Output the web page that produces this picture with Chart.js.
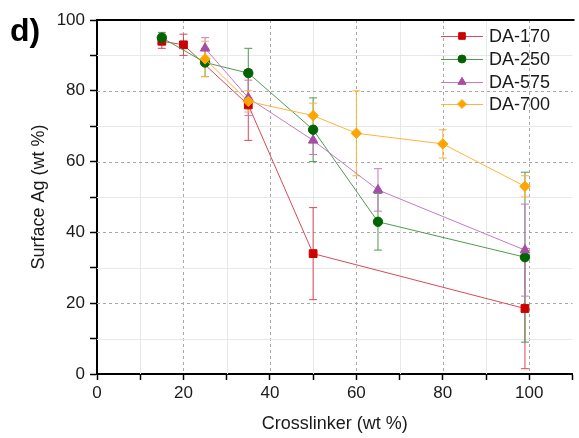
<!DOCTYPE html>
<html>
<head>
<meta charset="utf-8">
<script src="https://cdn.jsdelivr.net/npm/chart.js@4/dist/chart.umd.min.js"></script>
<style>
  html, body { margin: 0; padding: 0; background: #fff; overflow: hidden; }
  #wrap { width: 579px; height: 438px; }
</style>
</head>
<body>
<div id="wrap"><canvas id="surfaceChart" width="579" height="438"></canvas></div>
<script>
const seriesNames = ['DA-170', 'DA-250', 'DA-575', 'DA-700'];

const x170 = [15, 20, 35, 50, 99];
const y170 = [94, 93, 76, 34, 18.5];
const err170 = [2, 3, 10, 13, 17];

const x250 = [15, 25, 35, 50, 65, 99];
const y250 = [95, 88, 85, 69, 43, 33];
const err250 = [1.5, 4, 7, 9, 8, 24];

const x575 = [25, 35, 50, 65, 99];
const y575 = [92, 78, 66, 52, 35];
const err575 = [3, 5, 4, 6, 13];

const x700 = [25, 35, 50, 60, 80, 99];
const y700 = [89, 77, 73, 68, 65, 53];
const err700 = [5, 3, 3.5, 12, 4, 3];

const xTicks = [0, 20, 40, 60, 80, 100];
const yTicks = [0, 20, 40, 60, 80, 100];

const FONT = 'Arial, "Liberation Sans", sans-serif';

const toPoints = (xs, ys, errs) => xs.map((x, i) => ({ x, y: ys[i], err: errs[i] }));

const makeSet = (label, xs, ys, errs, lineColor, markColor, style, radius, order) => ({
    label,
    data: toPoints(xs, ys, errs),
    borderColor: lineColor,
    backgroundColor: markColor,
    borderWidth: 1,
    pointStyle: style,
    pointRadius: radius,
    pointHoverRadius: radius,
    pointBorderColor: markColor,
    pointBackgroundColor: markColor,
    pointBorderWidth: 1,
    errColor: lineColor,
    order,
});

const datasets = [
    makeSet(seriesNames[0], x170, y170, err170, '#d9485a', '#cc0000', 'rect', 5.5, 3),
    makeSet(seriesNames[1], x250, y250, err250, '#4f9a4f', '#006400', 'circle', 4.7, 2),
    makeSet(seriesNames[2], x575, y575, err575, '#c47ac4', '#a64ca6', 'triangle', 5.5, 1),
    makeSet(seriesNames[3], x700, y700, err700, '#ffb340', '#ffa500', 'rectRot', 5.2, 0),
];

// dashed major / light minor grid, drawn under the data
const gridPlugin = {
    id: 'gridLines',
    beforeDatasetsDraw(chart) {
        const { ctx, chartArea, scales } = chart;
        ctx.save();
        ctx.lineWidth = 1;
        for (let v = 10; v < 110; v += 10) {
            const px = Math.round(scales.x.getPixelForValue(v)) + 0.5;
            const major = v % 20 === 0;
            ctx.strokeStyle = major ? '#a8a8a8' : '#e8e8e8';
            ctx.setLineDash(major ? [3, 3] : []);
            ctx.beginPath();
            ctx.moveTo(px, chartArea.top);
            ctx.lineTo(px, chartArea.bottom);
            ctx.stroke();
        }
        for (let v = 10; v < 100; v += 10) {
            const py = Math.round(scales.y.getPixelForValue(v)) + 0.5;
            const major = v % 20 === 0;
            ctx.strokeStyle = major ? '#a8a8a8' : '#e8e8e8';
            ctx.setLineDash(major ? [3, 3] : []);
            ctx.beginPath();
            ctx.moveTo(chartArea.left, py);
            ctx.lineTo(chartArea.right, py);
            ctx.stroke();
        }
        ctx.restore();
    },
};

const errorBarPlugin = {
    id: 'errorBars',
    beforeDatasetsDraw(chart) {
        const { ctx, scales } = chart;
        ctx.save();
        ctx.lineWidth = 1;
        chart.data.datasets.forEach((ds) => {
            ctx.strokeStyle = ds.errColor;
            ds.data.forEach((p) => {
                const px = scales.x.getPixelForValue(p.x);
                const top = scales.y.getPixelForValue(p.y + p.err);
                const bot = scales.y.getPixelForValue(p.y - p.err);
                ctx.beginPath();
                ctx.moveTo(px, top);
                ctx.lineTo(px, bot);
                ctx.moveTo(px - 4, top);
                ctx.lineTo(px + 4, top);
                ctx.moveTo(px - 4, bot);
                ctx.lineTo(px + 4, bot);
                ctx.stroke();
            });
        });
        ctx.restore();
    },
};

const framePlugin = {
    id: 'frame',
    afterDraw(chart) {
        const { ctx, chartArea } = chart;
        ctx.save();
        ctx.strokeStyle = '#000';
        ctx.lineWidth = 2;
        ctx.beginPath();
        ctx.moveTo(chartArea.left - 1, chartArea.top);
        ctx.lineTo(chartArea.right + 2, chartArea.top);
        ctx.stroke();

        ctx.fillStyle = '#000';
        ctx.font = 'bold 32px ' + FONT;
        ctx.textBaseline = 'alphabetic';
        ctx.textAlign = 'left';
        ctx.fillText('d)', 10, 41);
        ctx.restore();
    },
};

// legend with line + marker, inside the top right corner
const legendPlugin = {
    id: 'innerLegend',
    afterDraw(chart) {
        const { ctx } = chart;
        const lx0 = 441;
        const lx1 = 483;
        const tx = 489;
        const rows = [36, 59, 82, 104];
        ctx.save();
        ctx.font = '18px ' + FONT;
        ctx.textBaseline = 'middle';
        chart.data.datasets.forEach((ds, i) => {
            const y = rows[i];
            ctx.strokeStyle = ds.borderColor;
            ctx.lineWidth = 1;
            ctx.beginPath();
            ctx.moveTo(lx0, y + 0.5);
            ctx.lineTo(lx1, y + 0.5);
            ctx.stroke();
            ctx.fillStyle = ds.pointBackgroundColor;
            ctx.strokeStyle = ds.pointBorderColor;
            Chart.helpers.drawPoint(ctx, {
                pointStyle: ds.pointStyle,
                radius: ds.pointRadius * 0.85,
                borderWidth: 1,
                rotation: 0,
            }, (lx0 + lx1) / 2, y);
            ctx.fillStyle = '#1a1a1a';
            ctx.fillText(ds.label, tx, y + 1);
        });
        ctx.restore();
    },
};

new Chart(document.getElementById('surfaceChart'), {
    type: 'line',
    data: { datasets },
    plugins: [gridPlugin, errorBarPlugin, framePlugin, legendPlugin],
    options: {
        responsive: false,
        animation: false,
        layout: { padding: { top: 20, right: 0, left: 0, bottom: 0 } },
        plugins: {
            legend: { display: false },
            tooltip: { enabled: false },
        },
        scales: {
            x: {
                type: 'linear',
                min: 0,
                max: 110,
                afterFit: (scale) => { scale.height = 64; },
                afterBuildTicks: (scale) => {
                    scale.ticks = [];
                    for (let v = 0; v <= 110; v += 10) scale.ticks.push({ value: v });
                },
                ticks: {
                    autoSkip: false,
                    maxRotation: 0,
                    padding: 3,
                    color: '#1a1a1a',
                    font: { family: FONT, size: 17 },
                    callback: (v) => (xTicks.includes(v) ? String(v) : ''),
                },
                grid: {
                    drawOnChartArea: false,
                    drawTicks: true,
                    tickLength: 6,
                    tickColor: '#000',
                    tickWidth: 1.5,
                },
                border: { color: '#000', width: 2 },
                title: {
                    display: true,
                    text: 'Crosslinker (wt %)',
                    color: '#1a1a1a',
                    font: { family: FONT, size: 18 },
                    padding: { top: 0, bottom: 3 },
                },
            },
            y: {
                type: 'linear',
                min: 0,
                max: 100,
                afterFit: (scale) => { scale.width = 97; },
                afterBuildTicks: (scale) => {
                    scale.ticks = [];
                    for (let v = 0; v <= 100; v += 10) scale.ticks.push({ value: v });
                },
                ticks: {
                    autoSkip: false,
                    padding: 5,
                    color: '#1a1a1a',
                    font: { family: FONT, size: 17 },
                    callback: (v) => (yTicks.includes(v) ? String(v) : ''),
                },
                grid: {
                    drawOnChartArea: false,
                    drawTicks: true,
                    tickLength: 7,
                    tickColor: '#000',
                    tickWidth: 1.5,
                },
                border: { color: '#000', width: 2 },
                title: {
                    display: true,
                    text: 'Surface Ag (wt %)',
                    color: '#1a1a1a',
                    font: { family: FONT, size: 18 },
                    padding: { top: 28, bottom: 0 },
                },
            },
        },
    },
});
</script>
</body>
</html>
